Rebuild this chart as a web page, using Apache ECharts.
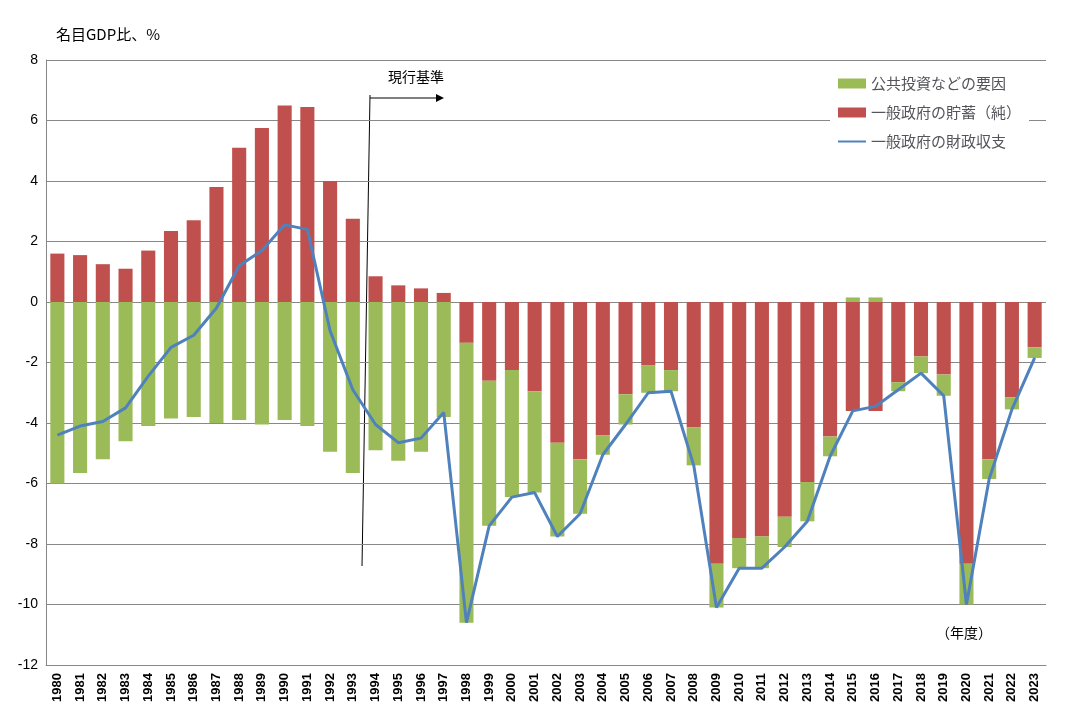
<!DOCTYPE html>
<html><head><meta charset="utf-8">
<script src="https://cdn.jsdelivr.net/npm/echarts@6/dist/echarts.min.js"></script>
<style>html,body{margin:0;background:#fff}#c{width:1069px;height:717px}</style>
</head><body><div id="c"></div>
<script>
var years = [];
for (var y = 1980; y <= 2023; y++) years.push(String(y));

var netSaving = [1.6,1.55,1.25,1.1,1.7,2.35,2.7,3.8,5.1,5.75,6.5,6.45,4.0,2.75,0.85,0.55,0.45,0.3,
  -1.35,-2.6,-2.25,-2.95,-4.65,-5.2,-4.4,-3.05,-2.1,-2.25,-4.15,-8.65,-7.8,-7.75,-7.1,-5.95,-4.45,-3.6,-3.6,-2.65,-1.8,-2.4,-8.65,-5.2,-3.15,-1.5];
var publicInv = [-6.0,-5.65,-5.2,-4.6,-4.1,-3.85,-3.8,-4.0,-3.9,-4.05,-3.9,-4.1,-4.95,-5.65,-4.9,-5.25,-4.95,-3.8,
  -9.25,-4.8,-4.2,-3.35,-3.1,-1.8,-0.65,-1.0,-0.9,-0.7,-1.25,-1.45,-1.0,-1.05,-1.0,-1.3,-0.65,0.15,0.15,-0.3,-0.55,-0.7,-1.35,-0.65,-0.4,-0.35];
var balance = [-4.4,-4.1,-3.95,-3.5,-2.45,-1.5,-1.1,-0.2,1.2,1.7,2.55,2.4,-0.95,-2.9,-4.05,-4.65,-4.5,-3.65,
  -10.6,-7.4,-6.45,-6.3,-7.75,-7.0,-5.05,-4.05,-3.0,-2.95,-5.4,-10.1,-8.8,-8.8,-8.1,-7.25,-5.1,-3.6,-3.45,-2.9,-2.35,-3.1,-10.0,-5.85,-3.55,-1.85];

var font = '"Noto Sans CJK JP", sans-serif';
var chart = echarts.init(document.getElementById('c'));
chart.setOption({
  animation: false,
  textStyle: { fontFamily: font, color: '#000' },
  grid: { left: 46, right: 23, top: 60, bottom: 52 },
  legend: {
    right: 40, top: 72, orient: 'vertical', itemGap: 14, itemWidth: 28, itemHeight: 10,
    backgroundColor: '#fff', padding: [4, 8, 4, 8],
    textStyle: { fontSize: 15, fontFamily: font },
    data: [
      { name: '公共投資などの要因', icon: 'rect' },
      { name: '一般政府の貯蓄（純）', icon: 'rect' },
      { name: '一般政府の財政収支', icon: 'path://M0,4L28,4L28,6L0,6Z' }
    ]
  },
  xAxis: {
    type: 'category', data: years,
    axisLine: { onZero: false, lineStyle: { color: '#888' } },
    axisTick: { show: false },
    axisLabel: { rotate: 90, fontSize: 13, fontWeight: 'bold', fontFamily: 'Liberation Sans', color: '#000', interval: 0 }
  },
  yAxis: {
    type: 'value', min: -12, max: 8, interval: 2,
    name: '名目GDP比、%', nameLocation: 'end', nameGap: 18,
    nameTextStyle: { fontSize: 15, align: 'left', padding: [0, 0, 0, 10], color: '#000' },
    axisLine: { show: true, lineStyle: { color: '#888' } },
    axisLabel: { fontSize: 14, color: '#000', fontFamily: 'Liberation Sans' },
    splitLine: { lineStyle: { color: '#888' } }
  },
  series: [
    { name: '一般政府の貯蓄（純）', type: 'bar', stack: 's', data: netSaving, barWidth: '62%', itemStyle: { color: '#c0504d' } },
    { name: '公共投資などの要因', type: 'bar', stack: 's', data: publicInv, itemStyle: { color: '#9bbb59' } },
    { name: '一般政府の財政収支', type: 'line', data: balance, symbol: 'none', lineStyle: { color: '#4f81bd', width: 3 }, itemStyle: { color: '#4f81bd' }, z: 5 }
  ],
  graphic: [
    { type: 'line', shape: { x1: 370, y1: 95, x2: 362, y2: 566 }, style: { stroke: '#000', lineWidth: 1 } },
    { type: 'line', shape: { x1: 370, y1: 98, x2: 440, y2: 98 }, style: { stroke: '#000', lineWidth: 1 } },
    { type: 'polygon', shape: { points: [[444, 98], [436, 94], [436, 102]] }, style: { fill: '#000' } },
    { type: 'text', left: 388, top: 70, style: { text: '現行基準', font: '14px ' + font, fill: '#000' } },
    { type: 'text', left: 936, top: 626, style: { text: '（年度）', font: '14px ' + font, fill: '#000' } }
  ]
});
</script></body></html>
